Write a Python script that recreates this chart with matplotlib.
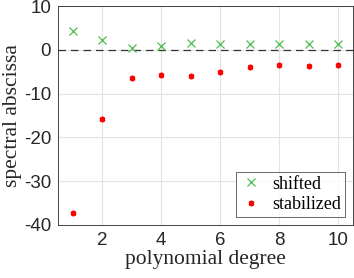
import numpy as np
import matplotlib
matplotlib.use("Agg")
import matplotlib.pyplot as plt
from matplotlib.font_manager import FontProperties

plt.rcParams["axes.unicode_minus"] = False
plt.rcParams["font.family"] = ["Liberation Serif", "DejaVu Serif"]

degree = [1, 2, 3, 4, 5, 6, 7, 8, 9, 10]
shifted = [4.3, 2.3, 0.5, 0.9, 1.5, 1.45, 1.3, 1.3, 1.3, 1.3]
stabilized = [-37.2, -15.75, -6.35, -5.75, -6.05, -5.15, -3.85, -3.55, -3.65, -3.45]

sans = ["Liberation Sans", "DejaVu Sans"]

fig = plt.figure(figsize=(3.54, 2.78), dpi=100)
ax = fig.add_axes([0.164, 0.191, 0.833, 0.787])

ax.axhline(0, color="#333333", linestyle=(0, (6, 4)), linewidth=0.9, zorder=2)
ax.plot(degree, shifted, linestyle="none", marker="x", color="#4dbd4d",
        markersize=5.5, markeredgewidth=0.9, label="shifted", zorder=3)
ax.plot(degree, stabilized, linestyle="none", marker=(6, 2, 0), color="red",
        markersize=4, markeredgewidth=1.3, label="stabilized", zorder=3)

ax.set_xlim(0.5, 10.5)
ax.set_ylim(-40, 10)
ax.set_xticks([2, 4, 6, 8, 10])
ax.set_yticks([-40, -30, -20, -10, 0, 10])
ax.grid(True, color="#e3e3e3", linewidth=0.8)
ax.set_axisbelow(True)
ax.tick_params(direction="in", length=0, labelsize=13.5, colors="#262626", pad=5)
for lab in ax.get_xticklabels() + ax.get_yticklabels():
    lab.set_family(sans)
for sp in ax.spines.values():
    sp.set_color("#262626")
    sp.set_linewidth(0.6)

ax.set_xlabel("polynomial degree", fontsize=15.5, color="#262626", labelpad=1)
ax.set_ylabel("spectral abscissa", fontsize=15.5, color="#262626", labelpad=1)

leg = ax.legend(loc="lower right", prop=FontProperties(family="Liberation Serif", size=13),
                frameon=True, fancybox=False, edgecolor="#262626",
                borderaxespad=0.45, handlelength=1.2, handletextpad=0.6,
                labelspacing=0.2, borderpad=0.2)
leg.get_frame().set_linewidth(0.6)

fig.savefig("out.png", dpi=100)
